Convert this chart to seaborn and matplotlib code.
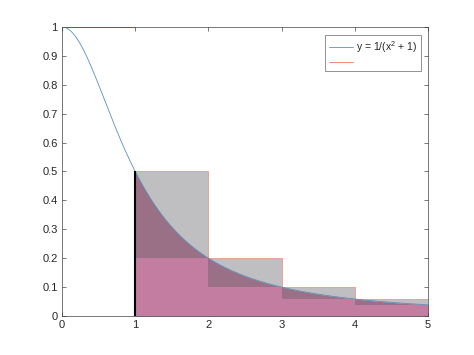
import numpy as np
import pandas as pd
import matplotlib
matplotlib.use("Agg")
import matplotlib.pyplot as plt
import seaborn as sns

# Data
left_edges = [1, 2, 3, 4]
upper_heights = [0.5, 0.2, 0.1, 0.0588]
lower_heights = [0.2, 0.1, 0.0588, 0.0385]
top_line_x = [0, 1]
top_line_y = [1, 1]
x_ticks = [0, 1, 2, 3, 4, 5]
y_ticks = [0, 0.1, 0.2, 0.3, 0.4, 0.5, 0.6, 0.7, 0.8, 0.9, 1]
y_tick_labels = ["0", "0.1", "0.2", "0.3", "0.4", "0.5", "0.6", "0.7", "0.8", "0.9", "1"]
curve_x = np.linspace(0, 5, 400)
curve_y = 1 / (curve_x ** 2 + 1)
curve_label = "y = 1/(x$^2$ + 1)"

sns.set_style("ticks")
plt.rcParams["font.family"] = ["Liberation Sans", "DejaVu Sans"]
plt.rcParams["mathtext.fontset"] = "custom"
plt.rcParams["mathtext.rm"] = "Liberation Sans"

fig = plt.figure(figsize=(4.74, 3.55), dpi=100)
ax = fig.add_axes([0.1308, 0.1099, 0.903 - 0.1308, 0.924 - 0.1099])

orange = (0.92, 0.55, 0.45)
blue = (0.36, 0.56, 0.72)

# upper rectangles
ax.bar(left_edges, upper_heights, width=1, align="edge", color=(0.75, 0.75, 0.76),
       edgecolor=orange, linewidth=0.5, zorder=1)
# area under curve from 1 to 5
mask = curve_x >= 1
ax.fill_between(curve_x[mask], 0, curve_y[mask], color=(0.60, 0.44, 0.52), linewidth=0, zorder=2)
# lower rectangles
ax.bar(left_edges, lower_heights, width=1, align="edge", color=(0.76, 0.49, 0.63),
       linewidth=0, zorder=3)

df = pd.DataFrame({"x": curve_x, "y": curve_y})
sns.lineplot(data=df, x="x", y="y", ax=ax, color=blue, linewidth=0.6, label=curve_label, zorder=4)
sns.lineplot(x=top_line_x, y=top_line_y, ax=ax, color=orange, linewidth=0.7, label=" ", zorder=4)
ax.vlines(1, 0, upper_heights[0], color="black", linewidth=1.5, zorder=5)

ax.set_xlim(0, 5)
ax.set_ylim(0, 1)
ax.set_xticks(x_ticks)
ax.set_xticklabels([str(t) for t in x_ticks])
ax.set_yticks(y_ticks)
ax.set_yticklabels(y_tick_labels)
ax.set_xlabel("")
ax.set_ylabel("")
ax.tick_params(direction="in", length=3, width=0.5, color="#404040", labelsize=8,
               top=True, right=True, pad=3)
for s in ax.spines.values():
    s.set_linewidth(0.5)
    s.set_color("#404040")
    s.set_zorder(6)

leg = ax.legend(loc="upper right", bbox_to_anchor=(0.987, 0.979), fontsize=7.5, frameon=True,
                fancybox=False, edgecolor="#404040", handlelength=2.3, borderpad=0.35,
                labelspacing=0.25, handletextpad=0.35, borderaxespad=0.2)
leg.get_frame().set_linewidth(0.5)

fig.savefig("out.png", dpi=100)
